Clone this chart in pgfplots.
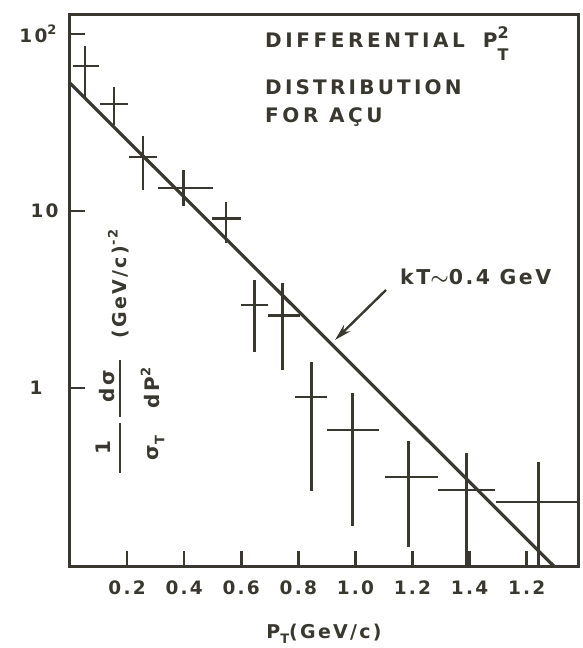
\documentclass[border=0pt]{standalone}
\usepackage{amsmath}
\usepackage{fontspec}
\setmainfont{DejaVu Sans}[UprightFont=* Bold, BoldFont=* Bold, LetterSpace=12]
\usepackage{pgfplots}
\usepackage{pgfplotstable}
\pgfplotsset{compat=1.18}
\usetikzlibrary{arrows.meta}
\definecolor{ink}{rgb}{0.22,0.22,0.19}
\newcommand{\sub}[1]{\raisebox{-0.55ex}{\fontsize{13}{13}\selectfont #1}}
\newcommand{\sps}[1]{\raisebox{0.8ex}{\fontsize{13}{13}\selectfont #1}}

% x  y  x-err-minus x-err-plus y-err-minus y-err-plus
\pgfplotstableread{
x     y     exm   exp   eym    eyp
0.053 66    0.043 0.049 22     19.5
0.154 40.3  0.049 0.050 9.7    9.9
0.256 20.2  0.049 0.049 7.0    6.3
0.397 13.5  0.088 0.105 2.8    3.6
0.547 9.1   0.049 0.053 2.5    2.1
0.646 2.94  0.046 0.049 1.34   1.13
0.744 2.58  0.049 0.063 1.32   1.34
0.846 0.89  0.057 0.056 0.628  0.51
0.989 0.58  0.087 0.092 0.414  0.36
1.186 0.314 0.084 0.102 0.188  0.188
1.389 0.265 0.098 0.099 0.20   0.165
1.642 0.227 0.151 0.140 0.17   0.155
}\ptdata

\pgfplotstableread{
x     y
0     52.8
1.695 0.0987
}\fitline

\begin{document}
\begin{tikzpicture}
\useasboundingbox (-70pt,-82pt) rectangle (512pt,566pt);
\begin{axis}[
  scale only axis, width=508pt, height=552pt,
  xmin=0, xmax=1.78,
  ymode=log, ymin=0.0987, ymax=129.8,
  axis line style={draw=ink, line width=3pt},
  xtick={0.2,0.4,0.6,0.8,1.0,1.2,1.4,1.6},
  xticklabels={0.2,0.4,0.6,0.8,1.0,1.2,1.4,1.2},
  ytick={1,10,100},
  yticklabels={1\hspace*{16pt},10,10\sps{2}\hspace*{2pt}},
  xminorticks=false, yminorticks=false,
  tick align=inside, xtick pos=left, ytick pos=left,
  major tick length=15pt,
  tick style={draw=ink, line width=2.6pt},
  ticklabel style={font=\fontsize{18.5}{20}\selectfont, text=ink},
  xticklabel style={yshift=-11pt},
  yticklabel style={xshift=-8pt},
  xlabel={P\sub{T}(GeV/c)},
  xlabel style={at={(axis description cs:0.5,0)}, anchor=base, yshift=-72pt,
    font=\fontsize{19}{22}\selectfont, text=ink},
  clip=true,
]
\addplot[draw=none, mark=none, forget plot,
  error bars/.cd, x dir=both, x explicit, y dir=both, y explicit,
  error mark=none, error bar style={draw=ink, line width=2.7pt}]
  table[x=x, y=y, x error plus=exp, x error minus=exm,
        y error plus=eyp, y error minus=eym]{\ptdata};
\addplot[draw=ink, line width=3.2pt, mark=none] table[x=x, y=y]{\fitline};
\end{axis}
% annotations (1pt = 1px of the reference; axis lower-left at origin)
\begin{scope}[every node/.style={text=ink, inner sep=0pt}]
\node[anchor=base west, font=\fontsize{20}{22}\selectfont\addfontfeature{LetterSpace=18}] at (195pt,518pt)
  {DIFFERENTIAL\hspace{18pt}P\makebox[0pt][l]{\raisebox{9pt}{\fontsize{16}{16}\selectfont 2}}\raisebox{-13pt}{\fontsize{16}{16}\selectfont T}};
\node[anchor=base west, font=\fontsize{20}{22}\selectfont\addfontfeature{LetterSpace=16}] at (195pt,471pt) {DISTRIBUTION};
\node[anchor=base west, font=\fontsize{20}{22}\selectfont\addfontfeature{LetterSpace=18}] at (195pt,443pt) {FOR AÇU};
\node[anchor=base west, font=\fontsize{20.5}{22}\selectfont] at (330pt,281pt) {kT$\boldsymbol{\sim}$0.4 GeV};
% rotated y label: 1/sigma_T  dsigma/dP^2  (GeV/c)^-2
\begin{scope}[every node/.append style={rotate=90, font=\fontsize{20}{22}\selectfont}]
\node at (33pt,118pt) {1};
\node at (86pt,118pt) {σ\sub{T}};
\node at (37pt,180pt) {dσ};
\node at (80pt,178pt) {dP\sps{2}};
\node[anchor=base, font=\fontsize{19}{22}\selectfont] at (56pt,282pt) {(GeV/c)\sps{-2}};
\end{scope}
\end{scope}
\draw[ink, line width=2.6pt] (50pt,143pt) -- (50pt,93pt);
\draw[ink, line width=2.6pt] (50pt,206pt) -- (50pt,149pt);
\draw[ink, line width=2.4pt, -{Stealth[length=17pt,width=9pt]}] (316pt,276pt) -- (265pt,226pt);
\end{tikzpicture}
\end{document}
